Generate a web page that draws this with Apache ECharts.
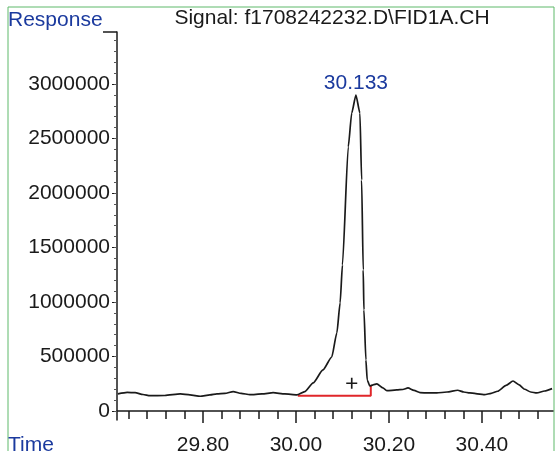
<!DOCTYPE html>
<html>
<head>
<meta charset="utf-8">
<script src="https://cdn.jsdelivr.net/npm/echarts@6/dist/echarts.min.js"></script>
<style>
  html, body { margin: 0; padding: 0; background: #fff; }
  #chrom { width: 557px; height: 451px; }
</style>
</head>
<body>
<div id="chrom"></div>
<script>
// signal trace (time in min, response in counts)
const times = [
  29.617, 29.637, 29.654, 29.671, 29.686, 29.718, 29.751, 29.772, 29.794, 29.815,
  29.830, 29.847, 29.865, 29.882, 29.901, 29.927, 29.951, 29.976, 30.002,
  30.019, 30.037, 30.058, 30.077, 30.088, 30.095, 30.100, 30.1125, 30.120, 30.129,
  30.1376, 30.1413, 30.1447, 30.1462, 30.1505, 30.1533, 30.159, 30.166, 30.174, 30.187,
  30.196, 30.217, 30.230, 30.241, 30.254, 30.267, 30.285, 30.303, 30.325, 30.348,
  30.361, 30.374, 30.406, 30.420, 30.434, 30.452, 30.467, 30.480, 30.492, 30.505,
  30.518, 30.535, 30.551
];
const responses = [
  156000, 170000, 168000, 151000, 140000, 142000, 156000, 147000, 135000, 147000,
  156000, 161000, 177000, 161000, 150000, 156000, 168000, 156000, 147000,
  177000, 257000, 376000, 495000, 716000, 991000, 1340000, 2422000, 2734000, 2899000,
  2734000, 2119000, 1294000, 927000, 468000, 284000, 229000, 240000, 248000, 211000,
  186000, 193000, 197000, 211000, 188000, 168000, 165000, 165000, 174000, 190000,
  174000, 165000, 150000, 161000, 181000, 234000, 275000, 239000, 199000, 174000,
  165000, 183000, 205000
];

// integration baseline and peak marks
const baselineTimes = [30.004, 30.161, 30.161];
const baselineResp = [140000, 140000, 229000];
const peakTime = [30.129];
const peakResp = [2899000];
const peakText = "30.133";
const crossTime = [30.120];
const crossResp = [254000];

// axes
const timeMin = 29.615, timeMax = 30.553;
const respMin = -83000, respMax = 3477000;
const timeMajor = [29.8, 30.0, 30.2, 30.4];
const timeMinor = [29.64, 29.68, 29.72, 29.76, 29.84, 29.88, 29.92, 29.96,
  30.04, 30.08, 30.12, 30.16, 30.24, 30.28, 30.32, 30.36, 30.44, 30.48, 30.52];
const respMajor = [0, 500000, 1000000, 1500000, 2000000, 2500000, 3000000];
const respMinor = [];
for (let v = 0; v <= 3400000; v += 100000) respMinor.push(v);

const zip = (a, b) => a.map((x, i) => [x, b[i]]);

const FONT = "'Liberation Sans', Arial, sans-serif";
const BLUE = "#1b3a9e";
const INK = "#1a1a1a";

let chart = echarts.init(document.getElementById("chrom"));
chart.setOption({
  animation: false,
  backgroundColor: "#fff",
  grid: { left: 117, right: 4, top: 32, bottom: 31, containLabel: false, outerBoundsMode: "none" },
  xAxis: [
    {
      type: "value",
      position: "bottom",
      min: timeMin,
      max: timeMax,
      axisLine: { lineStyle: { color: INK, width: 1.5 } },
      axisTick: { customValues: timeMajor, length: 12, lineStyle: { color: INK, width: 1.5 } },
      axisLabel: {
        customValues: timeMajor,
        formatter: v => v.toFixed(2),
        color: INK,
        fontSize: 21,
        fontFamily: FONT,
        margin: 15
      },
      splitLine: { show: false }
    },
    {
      type: "value",
      position: "bottom",
      min: timeMin,
      max: timeMax,
      axisLine: { show: false },
      axisTick: { customValues: timeMinor, length: 8, lineStyle: { color: INK, width: 1.5 } },
      axisLabel: { show: false },
      splitLine: { show: false }
    }
  ],
  yAxis: [
    {
      type: "value",
      position: "left",
      min: respMin,
      max: respMax,
      axisLine: { show: true, lineStyle: { color: INK, width: 1.5 } },
      axisTick: { show: true, customValues: respMajor, length: 5, lineStyle: { color: INK } },
      axisLabel: {
        customValues: respMajor,
        formatter: v => String(v),
        color: INK,
        fontSize: 21,
        fontFamily: FONT,
        margin: 7
      },
      splitLine: { show: false }
    },
    {
      type: "value",
      position: "left",
      min: respMin,
      max: respMax,
      axisLine: { show: false },
      axisTick: { show: true, customValues: respMinor, length: 3, lineStyle: { color: "#555" } },
      axisLabel: { show: false },
      splitLine: { show: false }
    }
  ],
  graphic: [
    {
      type: "rect",
      z: -1,
      shape: { x: 8, y: 7, width: 546, height: 460 },
      style: { fill: "none", stroke: "#5fb96a", lineWidth: 1 }
    },
    {
      type: "text",
      left: 8,
      top: 10,
      style: { text: "Response", fill: BLUE, font: "21px " + FONT }
    },
    {
      type: "polyline",
      shape: { points: [[103, 32], [117, 32]] },
      style: { stroke: INK, lineWidth: 1.5, fill: "none" }
    },
    {
      type: "text",
      x: 332,
      y: 8,
      style: {
        text: "Signal: f1708242232.D\\FID1A.CH",
        fill: INK,
        font: "21px " + FONT,
        textAlign: "center"
      }
    },
    {
      type: "text",
      left: 8,
      top: 435,
      style: { text: "Time", fill: BLUE, font: "21px " + FONT }
    }
  ],
  series: [
    {
      name: "FID1A",
      type: "line",
      data: zip(times, responses),
      showSymbol: false,
      smooth: 0.2,
      smoothMonotone: "x",
      lineStyle: { color: "#1a1a1a", width: 1.7 },
      z: 3
    },
    {
      name: "baseline",
      type: "line",
      data: zip(baselineTimes, baselineResp),
      showSymbol: false,
      lineStyle: { color: "#e0262a", width: 2 },
      z: 2
    },
    {
      name: "apex",
      type: "scatter",
      data: zip(peakTime, peakResp),
      symbolSize: 0,
      itemStyle: { opacity: 1 },
      label: {
        show: true,
        position: "top",
        distance: 1,
        formatter: peakText,
        color: BLUE,
        fontSize: 21,
        fontFamily: FONT
      }
    },
    {
      name: "cross",
      type: "scatter",
      data: zip(crossTime, crossResp),
      symbol: "path://M4.25,0h1.5v4.25h4.25v1.5h-4.25v4.25h-1.5v-4.25h-4.25v-1.5h4.25z",
      symbolSize: 11,
      itemStyle: { color: INK, opacity: 1 }
    }
  ]
});
</script>
</body>
</html>
